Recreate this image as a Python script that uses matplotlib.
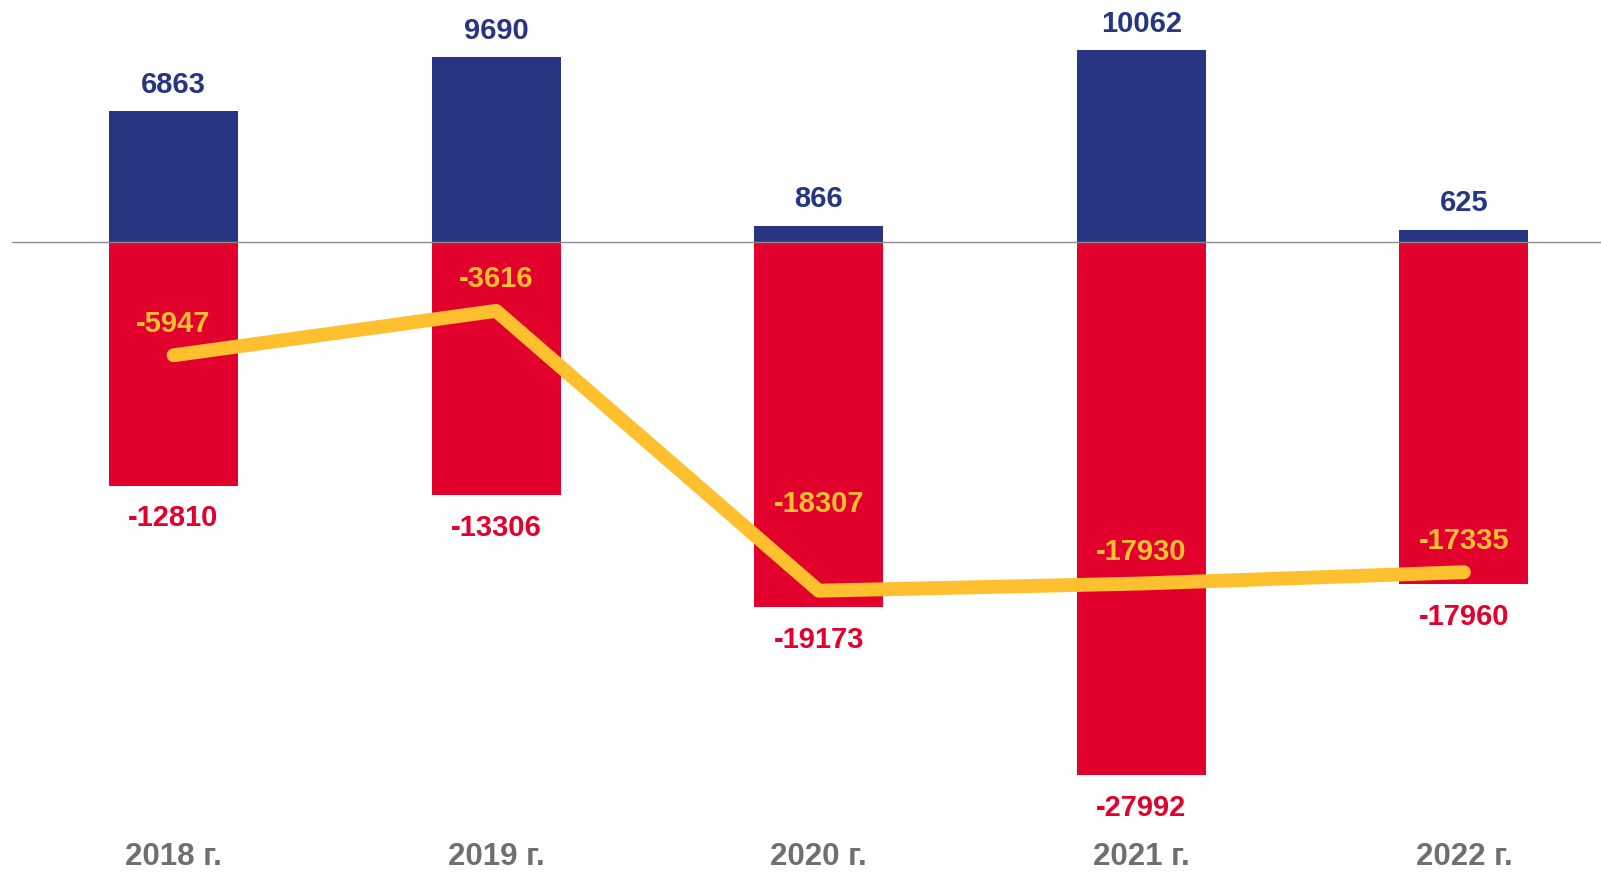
import numpy as np
import matplotlib
matplotlib.use("Agg")
import matplotlib.pyplot as plt

years = ["2018 г.", "2019 г.", "2020 г.", "2021 г.", "2022 г."]
positive = [6863, 9690, 866, 10062, 625]
negative = [-12810, -13306, -19173, -27992, -17960]
balance = [-5947, -3616, -18307, -17930, -17335]

BLUE = "#283583"
RED = "#E2002D"
YELLOW = "#FEC02F"
GREY = "#6F6F6F"


def main():
    plt.rcParams['font.family'] = ['Liberation Sans', 'DejaVu Sans']

    fig = plt.figure(figsize=(16.01, 8.72), dpi=100)
    # axes spans the full height, category labels are drawn as text
    ax = fig.add_axes([0.00765, 0.0, 0.99235, 1.0])
    x = np.arange(len(years))

    ax.bar(x, positive, width=0.4, color=BLUE, zorder=2)
    ax.bar(x, negative, width=0.4, color=RED, zorder=2)
    ax.axhline(0, color="#8C8C8C", lw=1.0, zorder=3)
    ax.plot(x, balance, color=YELLOW, lw=10, solid_capstyle="round",
            solid_joinstyle="round", zorder=4)

    for i in range(len(years)):
        ax.annotate(str(positive[i]), (x[i], positive[i]), xytext=(0, 19.2),
                    textcoords="offset points", ha="center", va="center",
                    fontsize=21, fontweight="bold", color=BLUE, zorder=5)
        ax.annotate(str(negative[i]), (x[i], negative[i]), xytext=(0, -23.4),
                    textcoords="offset points", ha="center", va="center",
                    fontsize=21, fontweight="bold", color=RED, zorder=5)

    # yellow labels sit above the line, the 2020 one is lifted higher
    yellow_offsets = [22.6, 22.6, 62.6, 22.6, 22.6]
    for i in range(len(years)):
        ax.annotate(str(balance[i]), (x[i], balance[i]), xytext=(0, yellow_offsets[i]),
                    textcoords="offset points", ha="center", va="center",
                    fontsize=21, fontweight="bold", color=YELLOW, zorder=5)

    ax.set_xlim(-0.5, 4.425)
    ax.set_ylim(-33075, 12705)

    for i in range(len(years)):
        ax.text(x[i], -32265, years[i], ha="center", va="center",
                fontsize=22.5, fontweight="bold", color=GREY)

    ax.axis("off")
    fig.savefig("out.png", dpi=100)


if __name__ == '__main__':
    main()
